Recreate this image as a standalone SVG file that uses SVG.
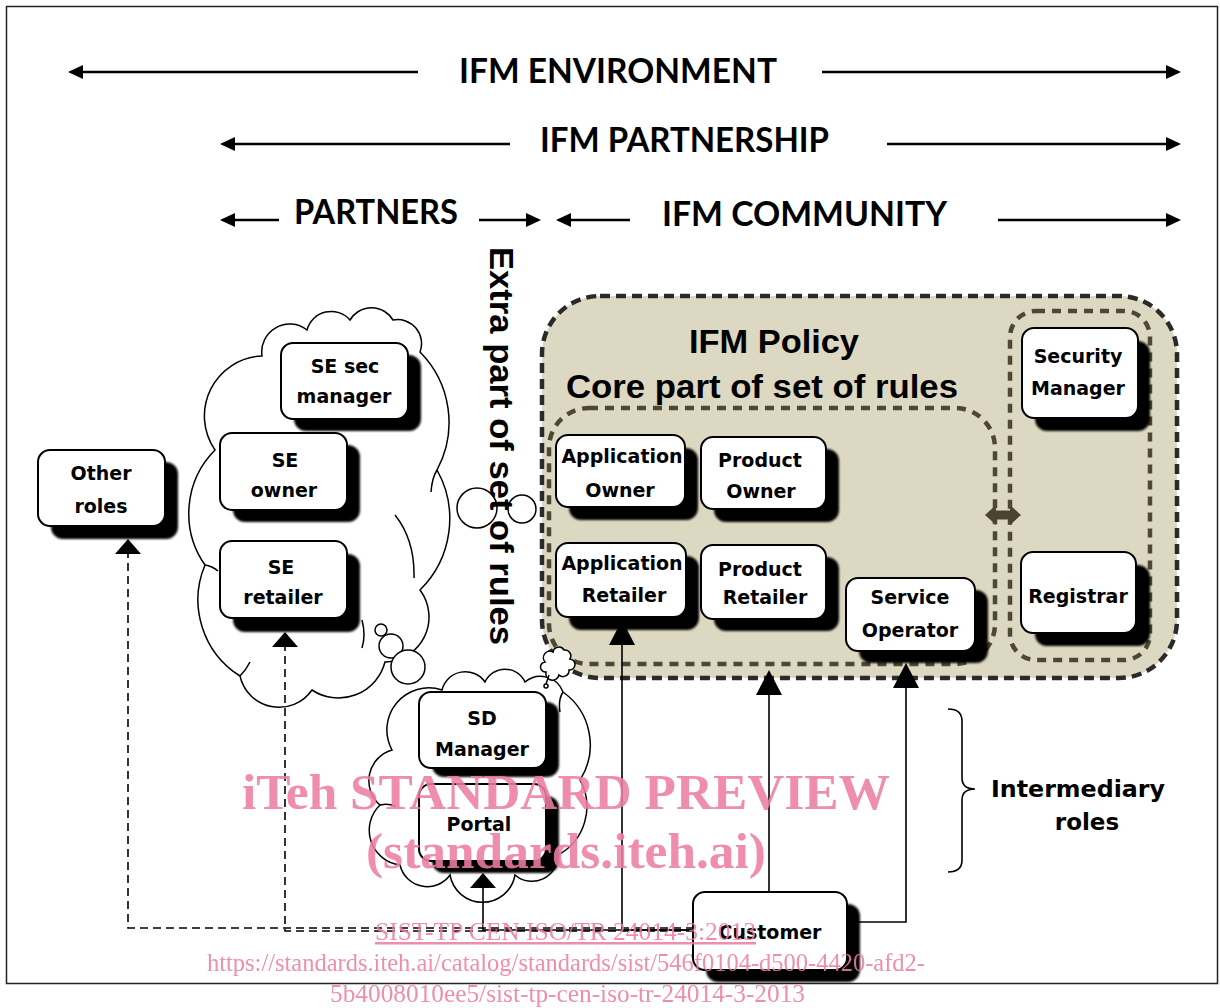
<svg xmlns="http://www.w3.org/2000/svg" width="1220" height="1008" viewBox="0 0 1220 1008">
<defs>
<filter id="blur" x="-10%" y="-10%" width="120%" height="120%"><feGaussianBlur stdDeviation="1.2"/></filter>
<marker id="ah" markerUnits="userSpaceOnUse" markerWidth="15" markerHeight="14" refX="12" refY="7" orient="auto"><path d="M0,0 L15,7 L0,14 z" fill="#000"/></marker>
<marker id="tri" markerUnits="userSpaceOnUse" markerWidth="15" markerHeight="26" refX="13" refY="13" orient="auto"><path d="M0,0 L15,13 L0,26 z" fill="#000"/></marker>
<marker id="trl" markerUnits="userSpaceOnUse" markerWidth="25" markerHeight="26" refX="22" refY="13" orient="auto"><path d="M0,0 L25,13 L0,26 z" fill="#000"/></marker>
</defs>
<style>
.nb{fill:#fff;stroke:#000;stroke-width:2}
.sh{fill:#000;filter:url(#blur)}
.nt{font-family:"DejaVu Sans",Verdana,sans-serif;font-weight:bold;font-size:19px;text-anchor:middle;fill:#000}
.hd{font-family:Lato,"Open Sans",sans-serif;font-weight:bold;font-size:34px;fill:#000}
.ha{stroke:#000;stroke-width:2.5;fill:none;marker-end:url(#ah)}
.cl{fill:#fff;stroke:#000;stroke-width:1.5}
.ci{fill:none;stroke:#000;stroke-width:1.5}
.ar{font-family:"Liberation Sans",Arial,sans-serif;font-weight:bold;fill:#000}
.cn{fill:none;stroke:#000;stroke-width:1.6}
.dash{stroke-dasharray:8 5}
.wm{font-family:"Liberation Serif","Times New Roman",serif;fill:#ec7fa1;opacity:0.88}
</style>
<rect x="0" y="0" width="1220" height="1008" fill="#fff"/>
<rect x="6.5" y="6.5" width="1211" height="977" fill="none" stroke="#222" stroke-width="1.5"/>

<g id="headers">
<line class="ha" x1="418" y1="72" x2="71" y2="72"/>
<text class="hd" x="459" y="83" textLength="318" lengthAdjust="spacingAndGlyphs">IFM ENVIRONMENT</text>
<line class="ha" x1="822" y1="72" x2="1178" y2="72"/>
<line class="ha" x1="510" y1="144" x2="223" y2="144"/>
<text class="hd" x="540" y="152" textLength="289" lengthAdjust="spacingAndGlyphs">IFM PARTNERSHIP</text>
<line class="ha" x1="887" y1="144" x2="1178" y2="144"/>
<line class="ha" x1="279" y1="220" x2="223" y2="220"/>
<text class="hd" x="294" y="224" textLength="164" lengthAdjust="spacingAndGlyphs">PARTNERS</text>
<line class="ha" x1="479" y1="220" x2="538" y2="220"/>
<line class="ha" x1="630" y1="220" x2="559" y2="220"/>
<text class="hd" x="662" y="226" textLength="285" lengthAdjust="spacingAndGlyphs">IFM COMMUNITY</text>
<line class="ha" x1="998" y1="220" x2="1178" y2="220"/>
</g>

<g id="policy">
<rect x="542" y="296" width="635" height="382" rx="58" fill="#ddd8c2" stroke="#2a2a2a" stroke-width="4.5" stroke-dasharray="10 6"/>
<rect x="549" y="408" width="446" height="256" rx="40" fill="none" stroke="#4d4733" stroke-width="4.5" stroke-dasharray="9 7"/>
<rect x="1010" y="311" width="140" height="349" rx="26" fill="none" stroke="#4d4733" stroke-width="4.5" stroke-dasharray="9 7"/>
<path d="M985,515 L996,505 L996,510.5 L1010,510.5 L1010,505 L1021,515 L1010,525 L1010,519.5 L996,519.5 L996,525 Z" fill="#4a4430"/>
<text class="ar" x="689" y="353" font-size="33" textLength="170" lengthAdjust="spacingAndGlyphs">IFM Policy</text>
<text class="ar" x="566" y="398" font-size="33" textLength="392" lengthAdjust="spacingAndGlyphs">Core part of set of rules</text>
</g>

<g id="cloud-partners">
<path class="cl" d="M215,450 A60,60 0 0 1 262,356 A28,28 0 0 1 307,330 A25,25 0 0 1 350,320 A25,25 0 0 1 393,320 A24,24 0 0 1 420,352 A100,100 0 0 1 437,470 A100,100 0 0 1 420,590 A45,45 0 0 1 385,662 A48,48 0 0 1 312,690 A40,40 0 0 1 240,676 A90,90 0 0 1 205,565 A90,90 0 0 1 215,450 Z"/>
<path class="ci" d="M437,470 Q432,478 431,492 M395,515 Q415,540 414,578 M362,620 Q366,635 362,648 M240,676 Q246,670 250,662 M205,565 Q212,566 218,571"/>
<circle class="cl" cx="381" cy="630" r="6"/>
<circle class="cl" cx="391" cy="646" r="12"/>
<circle class="cl" cx="408" cy="667" r="17"/>
</g>

<g id="cloud-sd">
<path class="cl" d="M392,750 A42,42 0 0 1 442,690 A24,24 0 0 1 485,682 A22,22 0 0 1 525,682 A24,24 0 0 1 563,692 A65,65 0 0 1 580,780 A55,55 0 0 1 558,855 A26,26 0 0 1 515,875 A33,33 0 0 1 450,875 A28,28 0 0 1 400,865 A35,35 0 0 1 380,805 A32,32 0 0 1 392,750 Z"/>
<path class="ci" d="M380,805 Q388,803 395,806 M563,692 Q558,700 560,712 M558,855 Q554,848 550,845"/>
<path class="cl" d="M546,672 a5,5 0 0 1 -1,-10 a6.5,6.5 0 0 1 8,-10 a6,6 0 0 1 11,-2 a6,6 0 0 1 6,9 a5.5,5.5 0 0 1 -1,11 a6,6 0 0 1 -10,5 a6.5,6.5 0 0 1 -13,-3 z"/>
<path class="ci" d="M549,675 L546,684"/>
<circle class="cl" cx="546" cy="686" r="2"/>
</g>

<g id="extra-rules">
<circle class="ci" cx="477" cy="508" r="20"/>
<circle class="ci" cx="522" cy="509" r="14"/>
<text class="ar" transform="translate(490,247) rotate(90)" x="0" y="0" font-size="34" textLength="398" lengthAdjust="spacingAndGlyphs">Extra part of set of rules</text>
</g>

<g id="other-roles">
<rect class="sh" x="51" y="462" width="127" height="77" rx="12"/>
<rect class="nb" x="38" y="450" width="127" height="76" rx="12"/>
<text class="nt" x="101" y="480">Other</text>
<text class="nt" x="101" y="513">roles</text>
</g>
<g id="se-sec-manager">
<rect class="sh" x="294" y="355" width="127" height="76" rx="12"/>
<rect class="nb" x="281" y="343" width="127" height="76" rx="12"/>
<text class="nt" x="345" y="373">SE sec</text>
<text class="nt" x="344" y="403">manager</text>
</g>
<g id="se-owner">
<rect class="sh" x="233" y="445" width="127" height="77" rx="12"/>
<rect class="nb" x="220" y="433" width="127" height="77" rx="12"/>
<text class="nt" x="285" y="467">SE</text>
<text class="nt" x="284" y="497">owner</text>
</g>
<g id="se-retailer">
<rect class="sh" x="233" y="554" width="127" height="78" rx="12"/>
<rect class="nb" x="220" y="541" width="127" height="77" rx="12"/>
<text class="nt" x="281" y="574">SE</text>
<text class="nt" x="283" y="604">retailer</text>
</g>
<g id="sd-manager">
<rect class="sh" x="432" y="702" width="127" height="75" rx="12"/>
<rect class="nb" x="419" y="692" width="127" height="76" rx="12"/>
<text class="nt" x="482" y="725">SD</text>
<text class="nt" x="482" y="756">Manager</text>
</g>
<g id="portal">
<rect class="sh" x="432" y="796" width="127" height="77" rx="12"/>
<rect class="nb" x="419" y="784" width="127" height="77" rx="12"/>
<text class="nt" x="479" y="831">Portal</text>
</g>
<g id="application-owner">
<rect class="sh" x="569" y="448" width="129" height="72" rx="12"/>
<rect class="nb" x="556" y="435" width="129" height="72" rx="12"/>
<text class="nt" x="622" y="463">Application</text>
<text class="nt" x="620" y="497">Owner</text>
</g>
<g id="product-owner">
<rect class="sh" x="714" y="449" width="125" height="73" rx="12"/>
<rect class="nb" x="701" y="437" width="125" height="72" rx="12"/>
<text class="nt" x="760" y="467">Product</text>
<text class="nt" x="761" y="498">Owner</text>
</g>
<g id="application-retailer">
<rect class="sh" x="569" y="556" width="130" height="74" rx="12"/>
<rect class="nb" x="556" y="543" width="130" height="74" rx="12"/>
<text class="nt" x="622" y="570">Application</text>
<text class="nt" x="624" y="602">Retailer</text>
</g>
<g id="product-retailer">
<rect class="sh" x="714" y="557" width="125" height="74" rx="12"/>
<rect class="nb" x="701" y="545" width="125" height="74" rx="12"/>
<text class="nt" x="760" y="576">Product</text>
<text class="nt" x="765" y="604">Retailer</text>
</g>
<g id="service-operator">
<rect class="sh" x="859" y="590" width="129" height="73" rx="12"/>
<rect class="nb" x="846" y="578" width="129" height="73" rx="12"/>
<text class="nt" x="910" y="604">Service</text>
<text class="nt" x="910" y="637">Operator</text>
</g>
<g id="security-manager">
<rect class="sh" x="1035" y="341" width="115" height="90" rx="12"/>
<rect class="nb" x="1022" y="328" width="116" height="90" rx="12"/>
<text class="nt" x="1078" y="363">Security</text>
<text class="nt" x="1078" y="395">Manager</text>
</g>
<g id="registrar">
<rect class="sh" x="1035" y="565" width="115" height="81" rx="12"/>
<rect class="nb" x="1021" y="552" width="115" height="81" rx="12"/>
<text class="nt" x="1078" y="603">Registrar</text>
</g>
<g id="customer">
<rect class="sh" x="706" y="904" width="154" height="78" rx="12"/>
<rect class="nb" x="693" y="892" width="154" height="78" rx="12"/>
<text class="nt" x="770" y="939">Customer</text>
</g>

<g id="connectors">
<path class="cn dash" d="M694,928 H128 V541" marker-end="url(#tri)"/>
<path class="cn dash" d="M694,931 H285 V634" marker-end="url(#tri)"/>
<path class="cn" d="M694,930 H483 V875" marker-end="url(#tri)"/>
<path class="cn" d="M694,930 H622 V623" marker-end="url(#trl)"/>
<path class="cn" d="M769,892 V673" marker-end="url(#trl)"/>
<path class="cn" d="M847,922 H906 V666" marker-end="url(#trl)"/>
</g>

<g id="intermediary">
<path d="M948,709 Q962,709 962,721 L962,778 Q962,789 975,789 Q962,789 962,800 L962,860 Q962,872 948,872" fill="none" stroke="#000" stroke-width="1.6"/>
<text class="nt" x="991" y="797" style="text-anchor:start;font-size:23px" textLength="174" lengthAdjust="spacingAndGlyphs">Intermediary</text>
<text class="nt" x="1087" y="830" style="font-size:23px">roles</text>
</g>

<g id="watermark">
<text class="wm" x="242" y="809" font-size="50" font-weight="bold" textLength="648" lengthAdjust="spacingAndGlyphs">iTeh STANDARD PREVIEW</text>
<text class="wm" x="366" y="868" font-size="50" font-weight="bold" textLength="400" lengthAdjust="spacingAndGlyphs">(standards.iteh.ai)</text>
<text class="wm" x="375" y="940" font-size="25" textLength="381" lengthAdjust="spacingAndGlyphs" text-decoration="underline">SIST-TP CEN ISO/TR 24014-3:2013</text>
<text class="wm" x="207" y="971" font-size="25" textLength="718" lengthAdjust="spacingAndGlyphs">https://standards.iteh.ai/catalog/standards/sist/546f0104-d500-4420-afd2-</text>
<text class="wm" x="330" y="1002" font-size="25" textLength="475" lengthAdjust="spacingAndGlyphs">5b4008010ee5/sist-tp-cen-iso-tr-24014-3-2013</text>
</g>
</svg>
